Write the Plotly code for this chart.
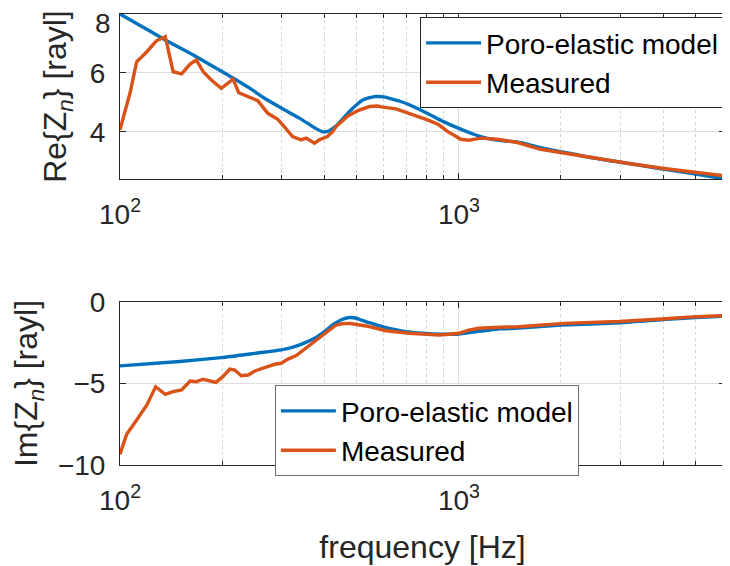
import plotly.graph_objects as go

# ---- data ----
re_model_f = [100, 115, 136, 165, 204, 240, 267, 300, 339, 375, 395, 410, 434, 455, 475, 500, 520, 545, 570,
              600, 623, 670, 714, 800, 900, 1000, 1100, 1160, 1250, 1350, 1450, 1550, 1650, 1800, 2000,
              2400, 3000, 3500, 4000, 5000, 6100]
re_model_v = [8.0, 7.6, 7.12, 6.6, 5.99, 5.5, 5.14, 4.8, 4.46, 4.14, 4.01, 4.02, 4.2, 4.45, 4.69, 4.93, 5.08,
              5.16, 5.2, 5.19, 5.14, 5.04, 4.92, 4.65, 4.35, 4.12, 3.93, 3.84, 3.75, 3.7, 3.67, 3.62, 3.53,
              3.43, 3.33, 3.15, 2.97, 2.85, 2.74, 2.57, 2.4]

re_meas_f = [100, 107, 112, 120, 128, 136, 143.5, 152, 161, 168, 176, 186, 199, 215.6, 224, 239, 255, 273,
             292, 306, 323, 342, 354, 375, 387, 409, 424, 434, 470, 503, 526, 545, 576, 596, 652, 675, 730,
             808, 870, 927, 970, 1012, 1069, 1160, 1296, 1488, 1742, 2042, 2559, 3207, 4021, 5036, 6100]
re_meas_v = [4.07, 5.31, 6.38, 6.72, 7.09, 7.23, 6.04, 5.97, 6.3, 6.44, 6.04, 5.76, 5.48, 5.79, 5.33, 5.18,
             5.06, 4.63, 4.43, 4.16, 3.84, 3.73, 3.79, 3.62, 3.73, 3.84, 4.01, 4.18, 4.54, 4.72, 4.8, 4.86,
             4.88, 4.84, 4.78, 4.72, 4.61, 4.41, 4.25, 4.01, 3.88, 3.75, 3.72, 3.79, 3.75, 3.64, 3.41, 3.28,
             3.08, 2.92, 2.76, 2.62, 2.51]

im_model_f = [100, 150, 199, 250, 299, 320, 342, 375, 401, 424, 434, 455, 475, 495, 508, 550, 595, 650, 698,
              760, 836, 920, 1000, 1100, 1200, 1315, 1500, 2000, 3000, 4000, 5000, 6100]
im_model_v = [-3.92, -3.65, -3.41, -3.15, -2.94, -2.8, -2.6, -2.23, -1.82, -1.41, -1.27, -1.05, -0.95, -0.98,
              -1.06, -1.3, -1.51, -1.7, -1.82, -1.9, -1.96, -1.98, -1.96, -1.85, -1.75, -1.65, -1.6, -1.42,
              -1.27, -1.08, -0.95, -0.86]

im_meas_f = [100, 104.6, 112, 120, 127.4, 136, 143.5, 152, 161, 168, 176, 192, 201, 211, 218, 228, 239, 250,
             267, 286, 299, 313, 331, 350, 375, 401, 434, 455, 475, 500, 532, 610, 714, 800, 874, 936, 1000,
             1069, 1144, 1315, 1500, 2042, 2967, 3970, 5000, 6100]
im_meas_v = [-9.34, -8.12, -7.24, -6.32, -5.2, -5.66, -5.5, -5.4, -4.85, -4.89, -4.74, -4.93, -4.58, -4.11,
             -4.17, -4.52, -4.48, -4.23, -4.03, -3.82, -3.76, -3.5, -3.29, -2.9, -2.39, -1.92, -1.41, -1.33,
             -1.31, -1.38, -1.47, -1.76, -1.92, -1.98, -2.02, -1.98, -1.92, -1.72, -1.61, -1.55, -1.52,
             -1.31, -1.2, -1.04, -0.9, -0.84]

x_tickvals = [100, 1000]
x_ticktext = ["10<sup>2</sup>", "10<sup>3</sup>"]
x_minor = [200, 300, 400, 500, 600, 700, 800, 900, 2000, 3000, 4000, 5000, 6000]
re_ticks = [4, 6, 8]
im_ticks = [-10, -5, 0]
series_names = ["Poro-elastic model", "Measured"]

BLUE = "#0072BD"
ORANGE = "#D95319"
FONT = "Liberation Sans, Arial, sans-serif"
TXT = "#262626"
LW = 3.4

fig = go.Figure()
fig.add_trace(go.Scatter(x=re_model_f, y=re_model_v, mode="lines", name=series_names[0],
                         line=dict(color=BLUE, width=LW, shape="spline", smoothing=0.6),
                         xaxis="x", yaxis="y", legend="legend"))
fig.add_trace(go.Scatter(x=re_meas_f, y=re_meas_v, mode="lines", name=series_names[1],
                         line=dict(color=ORANGE, width=LW), xaxis="x", yaxis="y", legend="legend"))
fig.add_trace(go.Scatter(x=im_model_f, y=im_model_v, mode="lines", name=series_names[0],
                         line=dict(color=BLUE, width=LW, shape="spline", smoothing=0.6),
                         xaxis="x2", yaxis="y2", legend="legend2"))
fig.add_trace(go.Scatter(x=im_meas_f, y=im_meas_v, mode="lines", name=series_names[1],
                         line=dict(color=ORANGE, width=LW), xaxis="x2", yaxis="y2", legend="legend2"))

xrange = [2, 3.785]
common_x = dict(type="log", range=xrange, tickmode="array", tickvals=x_tickvals, ticktext=x_ticktext,
                showline=True, linecolor=TXT, linewidth=1, mirror="ticks", ticks="inside", ticklen=6,
                tickcolor=TXT, showgrid=True, gridcolor="#dedede", gridwidth=1, zeroline=False,
                automargin=False, ticklabeloverflow="allow",
                tickfont=dict(size=28, color=TXT, family=FONT), ticklabelstandoff=10,
                minor=dict(tickmode="array", tickvals=x_minor, ticks="inside", ticklen=4, tickcolor=TXT,
                           showgrid=True, gridcolor="#d4d4d4", griddash="dot", gridwidth=1))
common_y = dict(showline=True, linecolor=TXT, linewidth=1, mirror="ticks", ticks="inside", ticklen=6,
                tickcolor=TXT, showgrid=True, gridcolor="#dedede", gridwidth=1, zeroline=False,
                automargin=False, ticklabeloverflow="allow",
                tickfont=dict(size=28, color=TXT, family=FONT), ticklabelstandoff=8)

# top tick label of the upper panel is drawn slightly lower (as in the reference) so it is not cut off
re_ticktext = [str(v) for v in re_ticks[:-1]] + [" "]

fig.update_layout(
    width=730, height=566,
    margin=dict(l=112, r=13, t=6, b=109),
    paper_bgcolor="white", plot_bgcolor="white",
    font=dict(family=FONT, color=TXT),
    xaxis=dict(common_x, domain=[0, 1], anchor="y"),
    yaxis=dict(common_y, domain=[0.634, 1.0], anchor="x", range=[2.4, 8], tickvals=re_ticks,
               ticktext=re_ticktext,
               title=dict(text="Re{Z<sub><i>n</i></sub>} [rayl]", font=dict(size=32, color=TXT, family=FONT),
                          standoff=13)),
    xaxis2=dict(common_x, domain=[0, 1], anchor="y2",
                title=dict(text="frequency [Hz]", font=dict(size=32, color=TXT, family=FONT), standoff=21)),
    yaxis2=dict(common_y, domain=[0, 0.3614], anchor="x2", range=[-10, 0], tickvals=im_ticks,
                title=dict(text="Im{Z<sub><i>n</i></sub>} [rayl]", font=dict(size=32, color=TXT, family=FONT),
                           standoff=15)),
    legend=dict(x=0.496, y=0.993, xanchor="left", yanchor="top", bgcolor="white",
                bordercolor="#262626", borderwidth=1, font=dict(size=28, color="black", family=FONT),
                tracegroupgap=0, itemwidth=55),
    legend2=dict(x=0.256, y=0.177, xanchor="left", yanchor="top", bgcolor="white",
                 bordercolor="#6e6e6e", borderwidth=1, font=dict(size=28, color="black", family=FONT),
                 tracegroupgap=0, itemwidth=55),
    showlegend=True,
    annotations=[dict(text=str(re_ticks[-1]), xref="paper", x=0, yref="y", y=re_ticks[-1],
                      xanchor="right", yanchor="top", xshift=-7, yshift=8, showarrow=False,
                      font=dict(size=28, color=TXT, family=FONT))],
)

fig.write_html("out.html")
